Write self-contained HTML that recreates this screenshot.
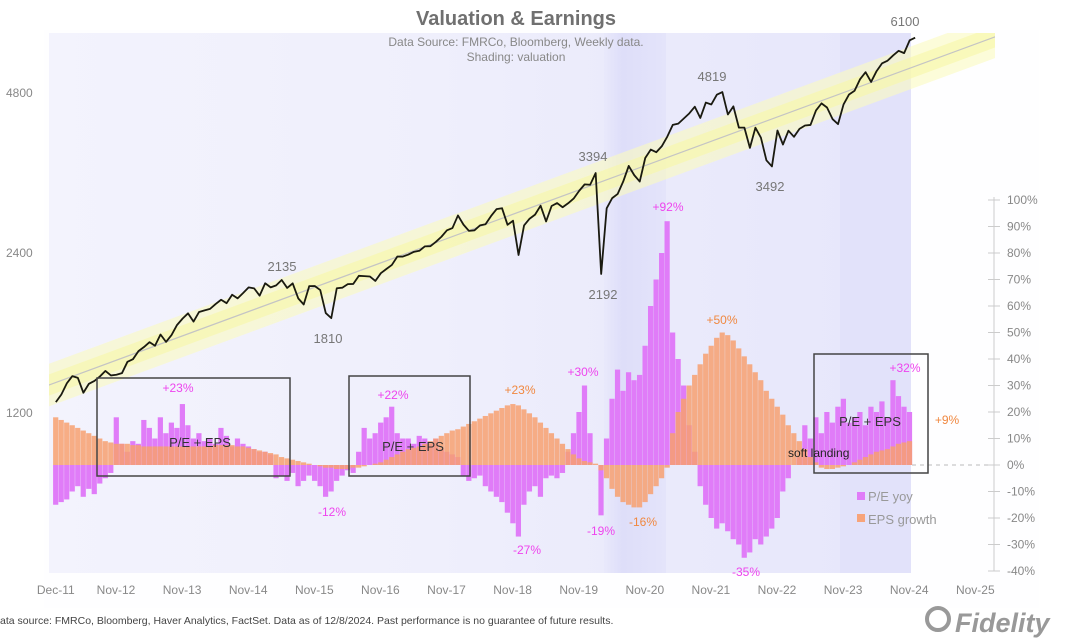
<!DOCTYPE html>
<html><head><meta charset="utf-8"><style>
body{margin:0;background:#fff;width:1074px;height:640px;overflow:hidden;font-family:"Liberation Sans",sans-serif}
svg{display:block}
</style></head><body>
<svg id="chart" width="1074" height="640" viewBox="0 0 1074 640" xmlns="http://www.w3.org/2000/svg">
<defs>
<linearGradient id="shadeG" x1="0" x2="1" y1="0" y2="0">
<stop offset="0" stop-color="#f3f3fd"/><stop offset="0.45" stop-color="#efeffc"/>
<stop offset="0.65" stop-color="#ebebfb"/><stop offset="1" stop-color="#e6e6fb"/>
</linearGradient>
<linearGradient id="band20" x1="0" x2="1" y1="0" y2="0">
<stop offset="0" stop-color="#e9e9fb"/><stop offset="0.3" stop-color="#dedef9"/><stop offset="1" stop-color="#e4e4fa"/>
</linearGradient>
<clipPath id="plotClip"><rect x="49" y="33" width="946" height="540"/></clipPath>
</defs>
<rect x="44" y="30" width="995" height="578" fill="#fefeff"/>
<rect x="49" y="33" width="862" height="540" fill="url(#shadeG)"/>
<rect x="604" y="33" width="62" height="540" fill="url(#band20)"/>
<rect x="840" y="33" width="71" height="540" fill="#e2e2fa"/>
<g clip-path="url(#plotClip)">
<line x1="30" y1="392" x2="1000" y2="35" stroke="#fbfbc0" stroke-width="40" opacity="0.6"/>
<line x1="30" y1="392" x2="1000" y2="35" stroke="#f8f8a8" stroke-width="20" opacity="0.6"/>
<line x1="30" y1="392" x2="1000" y2="35" stroke="#c4c4c4" stroke-width="1.2"/>
</g>
<g id="bars"></g>
<g id="price"></g>
<g id="axes"></g>
<g id="annot" font-size="13"></g>
</svg>
<script>
const months = 156; // Dec-2011 .. Nov-2024 monthly
const startYear = 2011.92;
const epsGrowth = [18,
17,16,15,14,13,12,11,10,9,8.5,8,8,
8,7.5,7.5,7,7,7,7,7,7,7,7,7,
7,7,7,7,7.5,7.5,7.5,7.5,7,7,6.5,6,
5.5,5,4.5,4,3,2.5,2,1.5,1,0.5,0,-0.5,
-1,-1,-1.5,-1.5,-1.5,-1,-1,-0.5,0,0.5,1,2,
3,4,5,6,6.5,7,8,9,10,11,12,13,
13.5,14.5,15.5,16.5,17.5,18.5,19.5,20.5,21.5,22.5,23,22.5,
21,19.5,18,16,14,12,10,8,6,4,2.5,1.5,
1,0.5,-2,-5,-9,-12,-14,-15,-16,-16,-14,-11,
-8,-5,-1,12,20,25,30,34,38,42,45,48,
50,49,47,44,41,38,35,32,28,25,22,19,
15,12,9,6,3,1,-1,-1.5,-1.5,-1,-0.5,0,
1,2,3,4,5,5.5,6,7,8,8.5,9];
const peYoy = [-15,
-14,-13,-10,-8,-12,-9,-11,-7,-5,-3,18,8,
5,9,8,17,14,10,18,12,16,14,23,15,
10,12,9,10,8,14,11,7,10,8,7,6,
5,5,4,-5,-4,-6,-3,-8,-6,-4,-6,-8,
-12,-10,-6,-4,-2,-3,5,14,10,12,16,18,
22,12,10,10,8,11,10,8,10,6,5,4,
3,-4,-6,-5,-4,-8,-10,-12,-14,-18,-22,-27,
-15,-10,-8,-12,-5,-4,-5,-3,5,12,20,30,
12,0,-19,10,25,36,28,35,32,34,45,60,
70,80,92,50,40,30,15,5,-8,-15,-20,-24,
-22,-25,-28,-30,-35,-33,-28,-30,-27,-24,-20,-10,
-5,0,3,15,10,18,12,20,16,22,25,16,
18,20,15,22,20,24,18,32,26,22,20];
const spx = [1258,
1300,1365,1408,1397,1310,1362,1379,1406,1440,1412,1416,1426,
1498,1515,1569,1597,1631,1606,1686,1633,1682,1757,1806,1848,
1783,1859,1872,1884,1924,1960,1931,2003,1972,2018,2068,2059,
1995,2105,2068,2086,2135,2063,2104,1972,1920,2079,2080,2044,
1850,1810,2060,2065,2097,2099,2174,2171,2168,2126,2199,2239,
2279,2364,2363,2384,2412,2423,2470,2472,2519,2575,2648,2674,
2824,2714,2641,2648,2705,2718,2816,2902,2914,2712,2760,2380,
2704,2784,2834,2946,2752,2942,2980,2926,2977,3038,3141,3231,
3226,3394,2192,2912,3044,3100,3271,3500,3363,3270,3622,3756,
3714,3811,3973,4181,4204,4298,4395,4523,4308,4605,4567,4766,
4819,4374,4530,4132,4132,3785,4130,3955,3586,3492,4080,3840,
4077,3970,4109,4169,4180,4450,4589,4508,4288,4194,4568,4770,
4846,5096,5254,5036,5278,5460,5522,5648,5762,5705,6030,6100];
const xTickLabels = ["Dec-11","Nov-12","Nov-13","Nov-14","Nov-15","Nov-16","Nov-17","Nov-18","Nov-19","Nov-20","Nov-21","Nov-22","Nov-23","Nov-24","Nov-25"];
const xTickYears = [2011.92,2012.83,2013.83,2014.83,2015.83,2016.83,2017.83,2018.83,2019.83,2020.83,2021.83,2022.83,2023.83,2024.83,2025.83];
const leftTicks = [1200,2400,4800];
const rightTicks = [100,90,80,70,60,50,40,30,20,10,0,-10,-20,-30,-40];

const NS="http://www.w3.org/2000/svg";
function xT(t){return 116+(t-2012.83)*66.1;}
function yPct(v){return 465-v*2.65;}
function yPrice(p){return 413-160*Math.log2(p/1200);}
function mk(tag,attrs,parent){const e=document.createElementNS(NS,tag);for(const k in attrs)e.setAttribute(k,attrs[k]);parent.appendChild(e);return e;}

const bars=document.getElementById('bars');
const bw=66.1/12;
peYoy.forEach((v,i)=>{
  const x=xT(startYear+i/12)-bw/2;const y0=yPct(0),y1=yPct(v);
  const r=mk('rect',{x:x.toFixed(2),y:Math.min(y0,y1).toFixed(2),width:(bw-0.3).toFixed(2),height:Math.abs(y1-y0).toFixed(2),fill:'#e07cf8'},bars);
  
  
});
epsGrowth.forEach((v,i)=>{
  const x=xT(startYear+i/12)-bw/2;const y0=yPct(0),y1=yPct(v);
  const r=mk('rect',{x:x.toFixed(2),y:Math.min(y0,y1).toFixed(2),width:(bw-0.3).toFixed(2),height:Math.abs(y1-y0).toFixed(2),fill:'#f7a070',opacity:'0.85'},bars);
  
  
});

const pg=document.getElementById('price');
const pts=spx.map((p,i)=>xT(startYear+i/12).toFixed(2)+','+yPrice(p).toFixed(2)).join(' ');
const pl=mk('polyline',{points:pts,fill:'none',stroke:'#1a1a10',"stroke-width":'1.8',"stroke-linejoin":'round'},pg);



const ax=document.getElementById('axes');
xTickLabels.forEach((l,i)=>{
  const t=mk('text',{x:xT(xTickYears[i]).toFixed(1),y:594,"text-anchor":'middle',"font-size":'12',fill:'#888'},ax);
  t.textContent=l;
  
  
});
leftTicks.forEach(v=>{
  const t=mk('text',{x:6,y:(yPrice(v)+4).toFixed(1),"font-size":'12',fill:'#888'},ax);
  t.textContent=String(v);
  
  
});
const ra=mk('line',{x1:994,y1:yPct(100)-3,x2:994,y2:yPct(-40),stroke:'#ccc'},ax);


rightTicks.forEach(v=>{
  const tk=mk('line',{x1:988,y1:yPct(v),x2:1000,y2:yPct(v),stroke:'#ccc'},ax);
  
  
  const t=mk('text',{x:1007,y:(yPct(v)+4).toFixed(1),"font-size":'12',fill:'#888'},ax);
  t.textContent=v+'%';
  
  
});
const zl=mk('line',{x1:912,y1:yPct(0),x2:992,y2:yPct(0),stroke:'#bbb',"stroke-dasharray":'4,4'},ax);


</script>
<svg style="position:absolute;left:0;top:0" width="1074" height="640" xmlns="http://www.w3.org/2000/svg" font-family="Liberation Sans, sans-serif">
<text x="516" y="25" text-anchor="middle" font-size="20" font-weight="bold" fill="#707070">Valuation &amp; Earnings</text>
<text x="516" y="46" text-anchor="middle" font-size="12" fill="#888">Data Source: FMRCo, Bloomberg,  Weekly data.</text>
<text x="516" y="61" text-anchor="middle" font-size="12" fill="#888">Shading: valuation</text>
<g font-size="13" fill="#777" text-anchor="middle">
<text x="905" y="26">6100</text>
<text x="712" y="81">4819</text>
<text x="593" y="161">3394</text>
<text x="770" y="191">3492</text>
<text x="603" y="299">2192</text>
<text x="282" y="271">2135</text>
<text x="328" y="343">1810</text>
</g>
<g fill="none" stroke="#444" stroke-width="1.5">
<rect x="97" y="378" width="193" height="98"/>
<rect x="349" y="376" width="121" height="100"/>
<rect x="814" y="354" width="114" height="119"/>
</g>
<g font-size="13" fill="#333" text-anchor="middle">
<text x="200" y="447">P/E + EPS</text>
<text x="413" y="451">P/E + EPS</text>
<text x="870" y="426">P/E + EPS</text>
</g>
<g font-size="12" fill="#ee44ee" text-anchor="middle">
<text x="178" y="392">+23%</text>
<text x="393" y="399">+22%</text>
<text x="332" y="516">-12%</text>
<text x="583" y="376">+30%</text>
<text x="527" y="554">-27%</text>
<text x="601" y="535">-19%</text>
<text x="668" y="211">+92%</text>
<text x="746" y="576">-35%</text>
<text x="905" y="372">+32%</text>
</g>
<g font-size="12" fill="#f08840" text-anchor="middle">
<text x="520" y="394">+23%</text>
<text x="643" y="526">-16%</text>
<text x="722" y="324">+50%</text>
<text x="947" y="424">+9%</text>
</g>
<text x="788" y="457" font-size="12" fill="#222">soft landing</text>
<rect x="857" y="492" width="8" height="8" fill="#e07cf8"/>
<text x="868" y="501" font-size="13" fill="#999">P/E yoy</text>
<rect x="857" y="514" width="8" height="8" fill="#f7a47a"/>
<text x="868" y="524" font-size="13" fill="#999">EPS growth</text>
<text x="0" y="624" font-size="10.5" fill="#444">ata source: FMRCo, Bloomberg, Haver Analytics, FactSet. Data as of 12/8/2024. Past performance is no guarantee of future results.</text>
<g>
<circle cx="938" cy="619" r="11" fill="none" stroke="#999" stroke-width="4"/>
<text x="955" y="632" font-size="27" font-weight="bold" font-style="italic" fill="#999">Fidelity</text>
</g>
</svg>
</body></html>
